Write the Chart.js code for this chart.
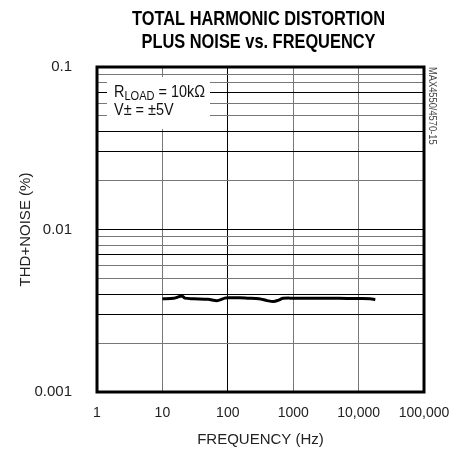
<!DOCTYPE html>
<html>
<head>
<meta charset="utf-8">
<script src="https://cdn.jsdelivr.net/npm/chart.js@4/dist/chart.umd.min.js"></script>
<style>
  body { margin: 0; background: #fff; }
</style>
</head>
<body>
<canvas id="thd" width="462" height="456"></canvas>
<script>
// THD+N vs frequency
const freqs = [10, 15, 20, 22, 30, 50, 70, 90, 100, 150, 200, 300, 400, 500, 600, 700, 1000, 2000, 5000, 10000, 15000, 18000]
const thdN = [0.00375, 0.00377, 0.0039, 0.00378, 0.00375, 0.00372, 0.00365, 0.00378, 0.0038, 0.0038, 0.00378, 0.00375, 0.00365, 0.0036, 0.00368, 0.00377, 0.00378, 0.00378, 0.00378, 0.00376, 0.00375, 0.0037]

const xTicks = [1, 10, 100, 1000, 10000, 100000]
const xTickLabels = ['1', '10', '100', '1000', '10,000', '100,000']
const yDecades = [0.001, 0.01, 0.1]
const yTickLabels = ['0.001', '0.01', '0.1']
const titleLines = ['TOTAL HARMONIC DISTORTION', 'PLUS NOISE vs. FREQUENCY']

const FONT = "'Liberation Sans', Arial, sans-serif"

// minor grid lines 1..9 in each decade
const yTicks = []
for (let d = 0; d < yDecades.length - 1; d++) {
  for (let m = 1; m <= 9; m++) yTicks.push(+(yDecades[d] * m).toPrecision(3))
}
yTicks.push(yDecades[yDecades.length - 1])

const darkMinor = [3, 4, 7]

const frame = {
  id: 'frame',
  afterDraw(chart) {
    const a = chart.chartArea
    const ctx = chart.ctx
    // condensed bold title
    ctx.save()
    ctx.fillStyle = '#000'
    ctx.font = 'bold 21px ' + FONT
    ctx.textAlign = 'center'
    ctx.textBaseline = 'alphabetic'
    ctx.translate((a.left + a.right) / 2 - 2, 0)
    ctx.scale(0.78, 1)
    ctx.fillText(titleLines[0], 0, 25)
    ctx.fillText(titleLines[1], 0, 48)
    ctx.restore()
  },
  afterDatasetsDraw(chart) {
    const a = chart.chartArea
    const ctx = chart.ctx
    ctx.save()
    // note box
    ctx.fillStyle = '#fff'
    ctx.fillRect(a.left + 10, a.top + 10, 103, 52)
    ctx.fillStyle = '#111'
    ctx.textBaseline = 'alphabetic'
    ctx.font = '17px ' + FONT
    let x = a.left + 17
    ctx.save()
    ctx.translate(x, 0)
    ctx.scale(0.85, 1)
    let w = 0
    ctx.fillText('R', w, a.top + 30)
    w += ctx.measureText('R').width
    ctx.font = '13px ' + FONT
    ctx.fillText('LOAD', w, a.top + 33)
    w += ctx.measureText('LOAD').width
    ctx.font = '17px ' + FONT
    ctx.fillText(' = 10k\u03A9', w, a.top + 30)
    ctx.fillText('V\u00B1 = \u00B15V', 0, a.top + 48)
    ctx.restore()
    // border
    ctx.strokeStyle = '#000'
    ctx.lineWidth = 3
    ctx.strokeRect(a.left, a.top, a.right - a.left, a.bottom - a.top)
    // part number
    ctx.translate(a.right + 8, a.top)
    ctx.rotate(Math.PI / 2)
    ctx.font = '10px ' + FONT
    ctx.fillStyle = '#444'
    ctx.textBaseline = 'middle'
    ctx.scale(0.93, 1)
    ctx.fillText('MAX4550/4570-15', 0, 0)
    ctx.restore()
  }
}

new Chart(document.getElementById('thd'), {
  type: 'line',
  data: {
    datasets: [{
      data: freqs.map((f, i) => ({ x: f, y: thdN[i] })),
      borderColor: '#000',
      borderWidth: 3,
      pointRadius: 0,
      tension: 0.3,
      fill: false,
    }],
  },
  options: {
    responsive: false,
    animation: false,
    layout: { padding: { left: 10, right: 38, top: 67, bottom: 4 } },
    plugins: {
      legend: { display: false },
      tooltip: { enabled: false },
      title: { display: false },
    },
    scales: {
      x: {
        type: 'logarithmic',
        min: 1,
        max: 100000,
        afterBuildTicks: (scale) => { scale.ticks = xTicks.map(v => ({ value: v })) },
        afterFit: (scale) => {
          scale.height = 60
          scale.paddingLeft = 0
          scale.paddingRight = 0
        },
        ticks: {
          autoSkip: false,
          maxRotation: 0,
          padding: 13,
          color: '#222',
          font: { family: FONT, size: 14 },
          callback: (v) => { const i = xTicks.indexOf(v); return i < 0 ? '' : xTickLabels[i] },
        },
        grid: {
          drawTicks: false,
          lineWidth: 1,
          color: (c) => (c.tick && c.tick.value === 100 ? '#000' : '#777'),
        },
        border: { display: false },
        title: {
          display: true,
          text: 'FREQUENCY (Hz)',
          color: '#222',
          font: { family: FONT, size: 15 },
          padding: { top: 4, bottom: 3 },
        },
      },
      y: {
        type: 'logarithmic',
        min: 0.001,
        max: 0.1,
        afterBuildTicks: (scale) => { scale.ticks = yTicks.map(v => ({ value: v })) },
        afterFit: (scale) => { scale.width = 87 },
        ticks: {
          autoSkip: false,
          padding: 25,
          color: '#222',
          font: { family: FONT, size: 15 },
          callback: (v) => { const i = yDecades.indexOf(v); return i < 0 ? '' : yTickLabels[i] },
        },
        grid: {
          drawTicks: false,
          lineWidth: 1,
          color: (c) => {
            if (!c.tick) return '#777'
            const m = Math.round(c.tick.value / Math.pow(10, Math.floor(Math.log10(c.tick.value) + 1e-9)))
            return m === 1 || darkMinor.includes(m) ? '#000' : '#777'
          },
        },
        border: { display: false },
        title: {
          display: true,
          text: 'THD+NOISE (%)',
          color: '#222',
          font: { family: FONT, size: 15 },
          padding: { top: 7, bottom: 0 },
        },
      },
    },
  },
  plugins: [frame],
})
</script>
</body>
</html>
